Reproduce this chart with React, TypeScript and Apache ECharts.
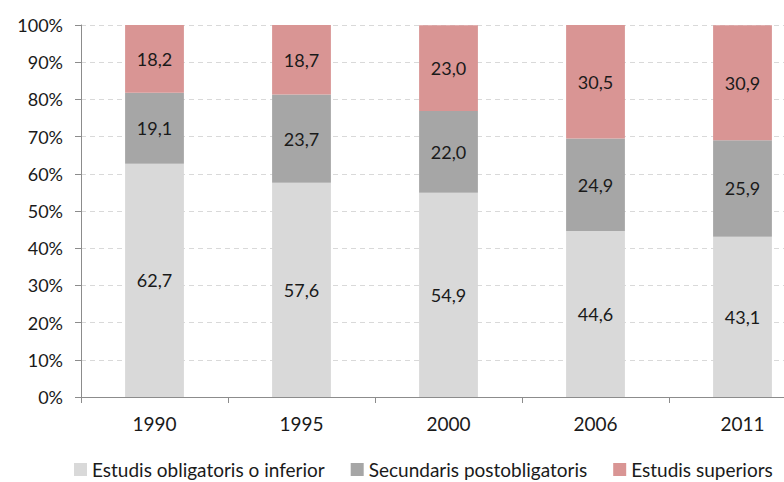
import React, { useEffect, useRef } from "react";
import * as echarts from "echarts";

const years = ["1990", "1995", "2000", "2006", "2011"];
const obligatoris = [62.7, 57.6, 54.9, 44.6, 43.1];
const secundaris = [19.1, 23.7, 22.0, 24.9, 25.9];
const superiors = [18.2, 18.7, 23.0, 30.5, 30.9];
const seriesNames = [
  "Estudis obligatoris o inferior",
  "Secundaris postobligatoris",
  "Estudis superiors",
];

const FONT = "Lato, 'Liberation Sans', sans-serif";

export default function App() {
  const ref = useRef<HTMLDivElement>(null);
  useEffect(() => {
    if (!ref.current) return;
    const chart = echarts.init(ref.current, null, { renderer: "svg" });
    const label = {
      show: true,
      position: "inside",
      color: "#1a1a1a",
      fontSize: 18,
      fontFamily: FONT,
      formatter: (p: any) => p.value.toFixed(1).replace(".", ","),
    };
    const mk = (name: string, data: number[], color: string) => ({
      name,
      type: "bar",
      stack: "total",
      data,
      barWidth: "40%",
      itemStyle: { color },
      label,
    });
    chart.setOption({
      animation: false,
      textStyle: { fontFamily: FONT },
      grid: { left: 81, right: 24, top: 25, bottom: 85, containLabel: false },
      legend: {
        top: 455,
        left: 69,
        itemWidth: 13,
        itemHeight: 13,
        itemGap: 26,
        icon: "rect",
        textStyle: { fontSize: 19, color: "#1a1a1a", fontFamily: FONT },
        data: seriesNames,
      },
      xAxis: {
        type: "category",
        data: years,
        axisLine: { lineStyle: { color: "#8c8c8c" } },
        axisTick: { show: true, length: 6, lineStyle: { color: "#8c8c8c" } },
        axisLabel: { fontSize: 19, color: "#1a1a1a", margin: 17, fontFamily: FONT },
      },
      yAxis: {
        type: "value",
        min: 0,
        max: 100,
        interval: 10,
        axisLine: { show: true, lineStyle: { color: "#8c8c8c" } },
        axisTick: { show: true, length: 6, lineStyle: { color: "#8c8c8c" } },
        axisLabel: { fontSize: 18, color: "#1a1a1a", margin: 18, formatter: "{value}%", fontFamily: FONT },
        splitLine: { lineStyle: { color: "#d9d9d9", type: [5, 4] } },
      },
      series: [
        mk(seriesNames[0], obligatoris, "#d9d9d9"),
        mk(seriesNames[1], secundaris, "#a6a6a6"),
        mk(seriesNames[2], superiors, "#d99594"),
      ],
    });
    return () => chart.dispose();
  }, []);
  return (
    <div style={{ width: 784, height: 482, position: "absolute", left: 0, top: 0, overflow: "hidden" }}>
      <div ref={ref} style={{ width: 840, height: 482 }} />
    </div>
  );
}
